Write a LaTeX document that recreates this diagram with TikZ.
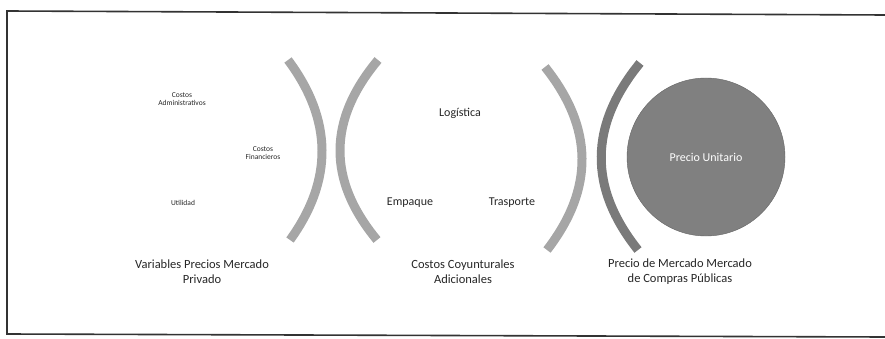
\documentclass[tikz,border=0pt]{standalone}
\usepackage{fontspec}
\setmainfont{Carlito}
\begin{document}
\begin{tikzpicture}[x=1pt,y=-1pt,
  arcline/.style={line width=9pt, draw=black!35, line cap=butt},
  darkarc/.style={line width=9pt, draw=black!52, line cap=butt},
  small/.style={font=\fontsize{7.5}{8.5}\selectfont, align=center, text=black!85},
  mid/.style={font=\fontsize{12}{14}\selectfont, text=black!85},
  label/.style={font=\fontsize{12.5}{15}\selectfont, align=center, text=black!85},
  frameline/.style={line width=1.6pt, draw=black!80}]
\useasboundingbox (0,0) rectangle (885,339);
% frame
\coordinate (tl) at (7,11);
\coordinate (tr) at (885,15);
\coordinate (bl) at (7,334);
\coordinate (br) at (885,337);
\draw[frameline] (tr) -- (tl) -- (bl) -- (br);
% arcs
\draw[arcline] (288,60) .. controls (332.7,120) and (333.3,180) .. (290,240);
\draw[arcline] (378,60) .. controls (327.7,120) and (327.3,180) .. (377,240);
\draw[arcline] (545,67) .. controls (593.7,128) and (594.3,188.7) .. (547,250);
\draw[darkarc] (640,63) .. controls (589,125.3) and (588.3,187.7) .. (638,250);
% circle
\node[circle, minimum size=158pt, inner sep=0pt, fill=black!50, draw=black!60] (pu) at (706,157) {};
\node[font=\fontsize{12}{14}\selectfont, text=white] (put) at (pu.center) {Precio Unitario};
% left group
\node[small] (ca) at (182,99) {Costos\\Administrativos};
\node[small] (cf) at (263,153) {Costos\\Financieros};
\node[small] (ut) at (183,203) {Utilidad};
% middle group
\node[mid] (lo) at (460,113) {Logística};
\node[mid] (em) at (410,203) {Empaque};
\node[mid] (tr2) at (512,203) {Trasporte};
% bottom labels
\node[label] (l1) at (202,272) {Variables Precios Mercado\\Privado};
\node[label] (l2) at (463,272) {Costos Coyunturales\\Adicionales};
\node[label] (l3) at (680,272) {Precio de Mercado Mercado\\de Compras Públicas};
\end{tikzpicture}
\end{document}
